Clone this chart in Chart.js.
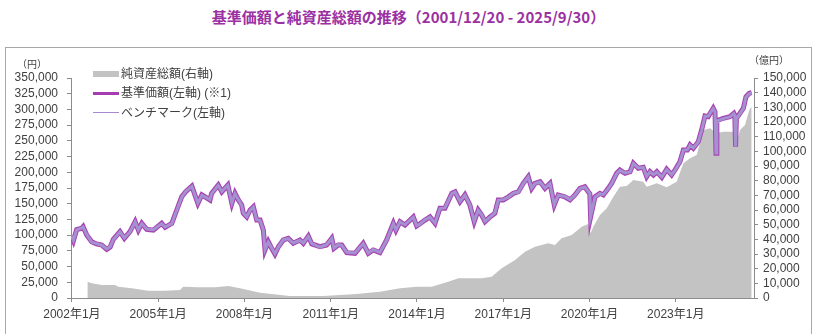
<!DOCTYPE html>
<html lang="ja">
<head>
<meta charset="utf-8">
<script src="https://cdn.jsdelivr.net/npm/chart.js@4.4.0/dist/chart.umd.min.js"></script>
<style>
    body { margin: 0; background: #fff; font-family: "Liberation Sans", "Noto Sans CJK JP", sans-serif; }
    #wrap { position: relative; width: 817px; height: 334px; overflow: hidden; }
    #title { position: absolute; left: 0; width: 817px; top: 6px; text-align: center; font: bold 15px "Noto Sans CJK JP", sans-serif; color: #9b30a3; white-space: nowrap; }
    #frame { position: absolute; left: 5px; top: 47px; width: 807px; height: 400px; box-sizing: border-box; border: 1px solid #a8a8a8; }
    #chart { position: absolute; left: 0; top: 0; }
    .unit { position: absolute; font-size: 10px; color: #404040; white-space: nowrap; }
    .lg { position: absolute; left: 93px; height: 16px; font-size: 12px; color: #404040; white-space: nowrap; }
    .lg .sw { position: absolute; left: 0; width: 26px; }
    .lg .tx { position: absolute; left: 28px; top: 0; line-height: 16px; }
</style>
</head>
<body>
<div id="wrap">
    <div id="frame"></div>
    <div id="title">基準価額と純資産総額の推移（2001/12/20 - 2025/9/30）</div>
    <canvas id="chart" width="817" height="334"></canvas>
    <div class="unit" style="left:17px;top:56px">（円）</div>
    <div class="unit" style="left:749px;top:52px">（億円）</div>
    <div class="lg" style="top:66px"><span class="sw" style="top:5px;height:6px;background:#c3c3c3"></span><span class="tx">純資産総額(右軸)</span></div>
    <div class="lg" style="top:85px"><span class="sw" style="top:7px;height:3px;background:#a53cb0"></span><span class="tx">基準価額(左軸) (※1)</span></div>
    <div class="lg" style="top:105px"><span class="sw" style="top:7px;height:1px;background:#a68bd2"></span><span class="tx">ベンチマーク(左軸)</span></div>
</div>
<script>
// 基準価額・ベンチマーク (円)
const priceDates = [
    '2001-12-20', '2002-01-20', '2002-03-01', '2002-05-05', '2002-05-22', '2002-07-08', '2002-09-09', '2002-11-10',
    '2003-01-15', '2003-03-18', '2003-04-30', '2003-06-10', '2003-09-03', '2003-10-28', '2004-01-08', '2004-03-13',
    '2004-04-23', '2004-06-06', '2004-08-08', '2004-11-01', '2005-02-15', '2005-03-28', '2005-06-22', '2005-08-24',
    '2005-10-26', '2005-12-16', '2006-03-03', '2006-05-18', '2006-07-08', '2006-10-20', '2006-11-10', '2007-02-03',
    '2007-03-18', '2007-06-03', '2007-07-24', '2007-09-03', '2007-10-15', '2007-11-27', '2007-12-17', '2008-01-30',
    '2008-03-12', '2008-04-23', '2008-06-05', '2008-07-17', '2008-08-28', '2008-09-19', '2008-10-30', '2008-12-12',
    '2009-01-23', '2009-03-06', '2009-05-08', '2009-07-10', '2009-09-12', '2009-12-06', '2010-01-18', '2010-03-21',
    '2010-05-04', '2010-08-17', '2010-11-10', '2011-01-14', '2011-02-12', '2011-04-06', '2011-05-19', '2011-07-22',
    '2011-11-05', '2012-02-18', '2012-04-22', '2012-06-24', '2012-09-17', '2012-12-11', '2013-03-05', '2013-04-08',
    '2013-05-29', '2013-08-01', '2013-11-15', '2013-12-28', '2014-02-09', '2014-04-12', '2014-06-14', '2014-08-17',
    '2014-10-19', '2014-12-21', '2015-03-17', '2015-04-28', '2015-06-30', '2015-09-01', '2015-11-03', '2015-12-28',
    '2016-02-18', '2016-04-01', '2016-05-13', '2016-07-15', '2016-09-16', '2016-10-29', '2017-01-01', '2017-03-06',
    '2017-05-08', '2017-07-10', '2017-09-12', '2017-11-14', '2017-12-27', '2018-02-08', '2018-04-12', '2018-06-14',
    '2018-08-16', '2018-10-10', '2018-11-30', '2019-02-23', '2019-04-27', '2019-06-29', '2019-08-31', '2019-11-02',
    '2019-12-15', '2020-01-05', '2020-01-15', '2020-03-10', '2020-05-12', '2020-06-24', '2020-08-26', '2020-10-09',
    '2020-12-11', '2021-01-22', '2021-03-26', '2021-05-29', '2021-07-10', '2021-09-12', '2021-11-14', '2021-12-27',
    '2022-02-08', '2022-03-22', '2022-05-04', '2022-07-06', '2022-09-07', '2022-11-09', '2022-12-21', '2023-02-23',
    '2023-04-06', '2023-05-27', '2023-06-30', '2023-08-11', '2023-10-13', '2023-11-25', '2024-01-07', '2024-02-17',
    '2024-04-20', '2024-05-12', '2024-05-25', '2024-06-05', '2024-08-25', '2024-11-18', '2025-01-08', '2025-01-20',
    '2025-01-30', '2025-02-10', '2025-05-07', '2025-06-10', '2025-07-22', '2025-08-21'
];
const priceValues = [
    100000, 91000, 109000, 111000, 113500, 100000, 89600, 86000,
    84300, 77500, 81000, 93400, 105500, 95000, 105500, 121400,
    108000, 118800, 109300, 108000, 118800, 112500, 118800, 140000,
    161000, 169000, 178000, 150600, 164000, 156000, 166500, 179800,
    169000, 179800, 150600, 166500, 156000, 148000, 134800, 129000,
    140000, 145000, 124000, 124000, 108000, 76400, 89600, 79000,
    70000, 81600, 92300, 95000, 87000, 92300, 87000, 98600,
    86000, 81600, 84300, 95000, 79000, 84300, 84300, 72100,
    71100, 87000, 71100, 76400, 72100, 92300, 118800, 108000,
    121400, 116000, 129000, 114500, 118000, 124000, 129000, 118800,
    142700, 142700, 166500, 169000, 153200, 164000, 148000, 121400,
    140000, 132000, 121400, 129000, 134800, 156000, 156000, 161000,
    166500, 169000, 182500, 193000, 174500, 182500, 185000, 174500,
    182500, 148000, 164000, 161000, 156000, 164000, 174500, 177000,
    169000, 166000, 129000, 161000, 166500, 164000, 174500, 182500,
    198400, 203600, 198400, 201000, 214300, 206400, 208000, 193000,
    201000, 195700, 201000, 192000, 204700, 195700, 203600, 216800,
    235500, 235500, 243400, 238200, 248700, 267300, 289600, 288500,
    301800, 296000, 230200, 282000, 285900, 288500, 293800, 290000,
    240700, 286000, 301800, 320300, 325700, 326700
];
const benchValues = [
    100000, 91500, 108500, 111500, 113000, 100500, 89000, 86500,
    84000, 78000, 81500, 93000, 105000, 95500, 105000, 121000,
    108500, 118000, 109800, 108500, 118300, 113000, 118300, 139500,
    160500, 169500, 177500, 151000, 163500, 156500, 166000, 179300,
    169500, 179300, 151200, 166000, 156500, 147500, 135300, 129500,
    139500, 144500, 124500, 123500, 108500, 77000, 89000, 79500,
    70500, 81000, 92800, 94500, 87500, 91800, 87500, 98000,
    86500, 81000, 84800, 94500, 79500, 84800, 83800, 72600,
    71600, 86500, 71600, 76900, 72600, 91800, 118300, 108500,
    121000, 116500, 128500, 115000, 117500, 124500, 128500, 119300,
    142200, 143200, 166000, 168500, 153700, 163500, 148500, 122000,
    139500, 132500, 122000, 128500, 135300, 155500, 156500, 160500,
    167000, 168500, 182000, 192500, 175000, 182000, 184500, 175000,
    182000, 148500, 163500, 161500, 156500, 163500, 174000, 176500,
    169500, 166500, 129500, 160500, 166000, 164500, 174000, 182000,
    198000, 203000, 199000, 200500, 213800, 206900, 207500, 193500,
    200500, 196200, 200500, 192500, 204200, 196200, 203100, 216300,
    235000, 236000, 242900, 238700, 248200, 266800, 289100, 289000,
    301300, 296500, 230700, 281500, 285400, 288000, 293300, 290500,
    241200, 285500, 301300, 319800, 325200, 326200
];

// 純資産総額 (億円)
const assetDates = [
    '2002-07-15', '2002-09-09', '2003-01-15', '2003-07-01', '2003-08-12', '2004-01-30', '2004-08-28', '2005-03-28',
    '2005-10-05', '2005-11-15', '2006-05-25', '2006-12-23', '2007-06-10', '2007-11-05', '2008-07-17', '2009-08-01',
    '2010-09-24', '2011-11-26', '2012-09-17', '2013-05-29', '2013-12-28', '2014-07-05', '2015-02-03', '2015-06-09',
    '2016-04-01', '2016-08-06', '2016-12-11', '2017-05-29', '2017-10-03', '2018-02-08', '2018-07-25', '2018-10-19',
    '2019-01-12', '2019-05-18', '2019-09-23', '2019-12-15', '2020-01-15', '2020-02-18', '2020-05-12', '2020-08-07',
    '2020-10-30', '2021-01-22', '2021-04-17', '2021-07-10', '2021-11-14', '2021-12-27', '2022-05-04', '2022-09-07',
    '2023-01-12', '2023-04-06', '2023-06-30', '2023-09-23', '2023-12-16', '2024-03-11', '2024-05-25', '2024-08-25',
    '2025-01-01', '2025-01-30', '2025-03-25', '2025-05-28', '2025-07-22', '2025-08-21'
];
const assetValues = [
    11100, 10000, 8900, 8900, 7700, 6600, 5000, 5000,
    5500, 7700, 7300, 7300, 8200, 6600, 3600, 1400,
    1400, 2700, 4300, 6600, 7700, 7700, 11100, 13400,
    13400, 14500, 20300, 25900, 31600, 35000, 37300, 36100,
    40700, 43000, 48600, 50500, 44100, 48600, 56600, 61200,
    69100, 75900, 76400, 80500, 79300, 75900, 78200, 75500,
    79300, 91900, 95300, 97500, 114600, 115700, 112300, 113400,
    113400, 103200, 114600, 118000, 128200, 130500
];

const xTickYears = [2002, 2005, 2008, 2011, 2014, 2017, 2020, 2023];
const leftMax = 350000, leftStep = 25000;
const rightMax = 150000, rightStep = 10000;

function toYear(d) {
    const [y, m, day] = d.split('-').map(Number);
    return y + (m - 1) / 12 + (day - 1) / 365;
}

function toPoints(dates, values) {
    return dates.map((d, i) => ({ x: toYear(d), y: values[i] }));
}

const axisColor = '#8c8c8c';
const textColor = '#404040';
const fmt = v => Number(v).toLocaleString('en-US');

Chart.defaults.font.family = '"Liberation Sans", "Noto Sans CJK JP", sans-serif';
Chart.defaults.font.size = 12;
Chart.defaults.color = textColor;

new Chart(document.getElementById('chart'), {
    type: 'line',
    data: {
        datasets: [
            {
                label: '純資産総額(右軸)',
                data: toPoints(assetDates, assetValues),
                yAxisID: 'y2',
                backgroundColor: '#c3c3c3',
                borderWidth: 0,
                pointRadius: 0,
                fill: 'origin',
                order: 3
            },
            {
                label: '基準価額(左軸)',
                data: toPoints(priceDates, priceValues),
                yAxisID: 'y',
                borderColor: '#a743b3',
                borderWidth: 5,
                pointRadius: 0,
                fill: false,
                order: 2
            },
            {
                label: 'ベンチマーク(左軸)',
                data: toPoints(priceDates, benchValues),
                yAxisID: 'y',
                borderColor: '#a591cf',
                borderWidth: 3,
                pointRadius: 0,
                fill: false,
                order: 1
            }
        ]
    },
    options: {
        responsive: false,
        animation: false,
        layout: { padding: { top: 78, left: 0, right: 0, bottom: 0 } },
        plugins: {
            legend: { display: false },
            tooltip: { enabled: false }
        },
        scales: {
            x: {
                type: 'linear',
                min: toYear('2001-12-20'),
                max: 2025.72,
                afterBuildTicks: s => { s.ticks = xTickYears.map(v => ({ value: v })); },
                afterFit: s => { s.height = 36; },
                ticks: { autoSkip: false, maxRotation: 0, padding: 5, callback: v => v + '年1月' },
                grid: { drawOnChartArea: false, tickLength: 4, color: axisColor },
                border: { color: axisColor }
            },
            y: {
                position: 'left',
                min: 0,
                max: leftMax,
                afterFit: s => { s.width = 71; },
                ticks: { stepSize: leftStep, autoSkip: false, padding: 9, callback: fmt },
                grid: { drawOnChartArea: false, tickLength: 4, color: axisColor },
                border: { color: axisColor }
            },
            y2: {
                position: 'right',
                min: 0,
                max: rightMax,
                afterFit: s => { s.width = 63; },
                ticks: { stepSize: rightStep, autoSkip: false, padding: 5, callback: fmt },
                grid: { drawOnChartArea: false, tickLength: 4, color: axisColor },
                border: { color: axisColor }
            }
        }
    }
});
</script>
</body>
</html>
